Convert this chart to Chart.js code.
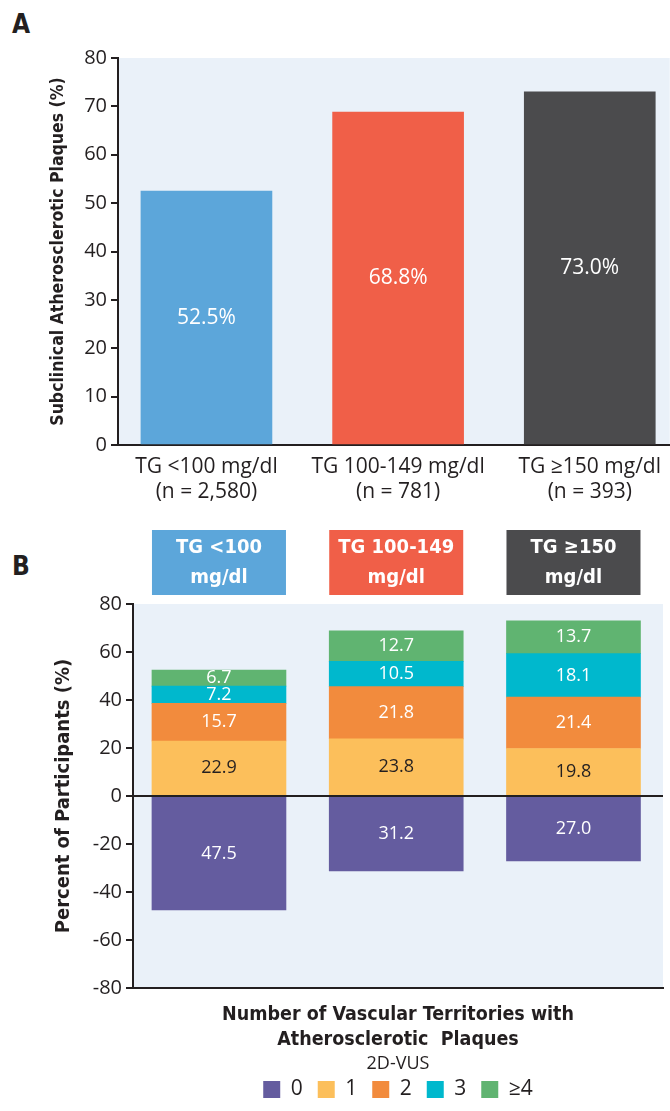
<!DOCTYPE html>
<html lang="en">
<head>
  <meta charset="UTF-8" />
  <title>Triglycerides and subclinical atherosclerosis</title>
  <script src="https://cdn.jsdelivr.net/npm/chart.js"></script>
  <style>
    body { margin: 0; background: #fff; width: 670px; height: 1111px; overflow: hidden; position: relative; color: #231f20; }
    .panel { position: absolute; left: 12px; font: bold 26px 'DejaVu Sans Condensed', sans-serif; }
    #chartA { position: absolute; left: 0; top: 0; }
    #chartB { position: absolute; left: 0; top: 520px; }
  </style>
</head>
<body>
  <div class="panel" style="top:9px">A</div>
  <div class="panel" style="top:551px">B</div>
  <canvas id="chartA" width="670" height="520"></canvas>
  <canvas id="chartB" width="670" height="591"></canvas>

  <script>
    const categories = ['TG <100 mg/dl', 'TG 100-149 mg/dl', 'TG ≥150 mg/dl'];
    const sampleSizes = ['(n = 2,580)', '(n = 781)', '(n = 393)'];
    const headerLabels = [['TG <100', 'mg/dl'], ['TG 100-149', 'mg/dl'], ['TG ≥150', 'mg/dl']];
    const groupColors = ['#5ca6da', '#f05f48', '#4b4b4d'];

    // panel A: % with subclinical plaques
    const plaquePct = [52.5, 68.8, 73.0];

    // panel B: number of vascular territories with plaque (0 is drawn below the axis)
    const territoryLabels = ['0', '1', '2', '3', '≥4'];
    const territory0 = [47.5, 31.2, 27.0];
    const territory1 = [22.9, 23.8, 19.8];
    const territory2 = [15.7, 21.8, 21.4];
    const territory3 = [7.2, 10.5, 18.1];
    const territory4 = [6.7, 12.7, 13.7];
    const territoryColors = ['#645c9f', '#fcbf5b', '#f28b3d', '#00b8cd', '#60b471'];

    const ink = '#231f20';
    const regular = "'Open Sans', sans-serif";
    const bold = "'DejaVu Sans Condensed', sans-serif";

    const plotBg = {
      id: 'plotBg',
      beforeDraw(chart) {
        const a = chart.chartArea, ctx = chart.ctx;
        ctx.save();
        ctx.fillStyle = '#eaf1f9';
        ctx.fillRect(a.left, a.top, a.right - a.left, a.bottom - a.top);
        ctx.restore();
      }
    };

    const barLabels = {
      id: 'barLabels',
      afterDatasetsDraw(chart, args, opts) {
        const ctx = chart.ctx;
        ctx.save();
        ctx.font = opts.font;
        ctx.textAlign = 'center';
        ctx.textBaseline = 'middle';
        chart.data.datasets.forEach((ds, d) => {
          chart.getDatasetMeta(d).data.forEach((bar, i) => {
            ctx.fillStyle = opts.colors[d];
            const v = Math.abs(ds.data[i].y);
            ctx.fillText(v.toFixed(1) + opts.suffix, bar.x, (bar.y + bar.base) / 2);
          });
        });
        ctx.restore();
      }
    };

    // black line at y = 0, drawn over the bars
    const zeroLine = {
      id: 'zeroLine',
      afterDatasetsDraw(chart) {
        const ctx = chart.ctx, a = chart.chartArea;
        const y0 = Math.round(chart.scales.y.getPixelForValue(0));
        ctx.save();
        ctx.strokeStyle = ink;
        ctx.lineWidth = 2;
        ctx.beginPath();
        ctx.moveTo(a.left, y0);
        ctx.lineTo(a.right, y0);
        ctx.stroke();
        ctx.restore();
      }
    };

    const groupHeaders = {
      id: 'groupHeaders',
      afterDraw(chart) {
        const ctx = chart.ctx, x = chart.scales.x;
        ctx.save();
        ctx.textAlign = 'center';
        ctx.textBaseline = 'middle';
        ctx.font = 'bold 20px ' + bold;
        headerLabels.forEach((lines, i) => {
          const cx = x.getPixelForValue(i);
          ctx.fillStyle = groupColors[i];
          ctx.fillRect(cx - 67, 10, 134, 65);
          ctx.fillStyle = '#fff';
          ctx.fillText(lines[0], cx, 28);
          ctx.fillText(lines[1], cx, 58);
        });
        ctx.restore();
      }
    };

    new Chart(document.getElementById('chartA'), {
      type: 'bar',
      data: {
        datasets: [{
          data: plaquePct.map((v, i) => ({ x: i, y: v })),
          backgroundColor: groupColors,
          borderWidth: 0,
          barThickness: 131
        }]
      },
      options: {
        responsive: false,
        animation: false,
        layout: { padding: { top: 58, right: 0, bottom: 0, left: 0 } },
        plugins: {
          legend: { display: false },
          tooltip: { enabled: false },
          barLabels: { font: '21px ' + regular, colors: ['#fff'], suffix: '%' }
        },
        scales: {
          x: {
            type: 'linear', min: -0.4615, max: 2.417, offset: false,
            afterBuildTicks: s => { s.ticks = categories.map((c, i) => ({ value: i })); },
            afterFit: s => { s.height = 75; },
            grid: { display: false, drawTicks: false },
            border: { display: true, color: ink, width: 2 },
            ticks: {
              padding: 9, color: ink, maxRotation: 0, autoSkip: false,
              font: { family: regular, size: 21, lineHeight: 1.2 },
              callback: v => [categories[v], sampleSizes[v]]
            }
          },
          y: {
            min: 0, max: 80,
            afterFit: s => { s.width = 118; },
            grid: { drawOnChartArea: false, tickLength: 7, color: ink, lineWidth: 2 },
            border: { color: ink, width: 2 },
            ticks: { stepSize: 10, padding: 4, color: ink, font: { family: regular, size: 20 } },
            title: {
              display: true, text: 'Subclinical Atherosclerotic Plaques (%)', color: ink,
              font: { family: bold, size: 17.5, weight: 'bold', lineHeight: 1.2 },
              padding: { top: 48, bottom: 0 }
            }
          }
        }
      },
      plugins: [plotBg, barLabels]
    });

    const seriesB = [territory0, territory1, territory2, territory3, territory4];

    new Chart(document.getElementById('chartB'), {
      type: 'bar',
      data: {
        datasets: territoryLabels.map((lab, k) => ({
          label: lab,
          data: seriesB[k].map((v, i) => ({ x: i, y: k === 0 ? -v : v })),
          backgroundColor: territoryColors[k],
          borderWidth: 0,
          barThickness: 134
        }))
      },
      options: {
        responsive: false,
        animation: false,
        layout: { padding: { top: 84, right: 7, bottom: 1, left: 0 } },
        plugins: {
          tooltip: { enabled: false },
          barLabels: { font: '18px ' + regular, colors: ['#fff', ink, '#fff', '#fff', '#fff'], suffix: '' },
          legend: {
            position: 'bottom',
            fullSize: false,
            title: { display: true, text: '2D-VUS', color: ink, font: { family: regular, size: 18, lineHeight: 0.5 }, padding: { top: 2, bottom: 0 } },
            labels: { boxWidth: 17, boxHeight: 17, padding: 15, color: ink, font: { family: regular, size: 21, lineHeight: 1 } }
          }
        },
        scales: {
          x: {
            type: 'linear', min: -0.485, max: 2.505, offset: false, stacked: true,
            afterBuildTicks: s => { s.ticks = categories.map((c, i) => ({ value: i })); },
            afterFit: s => { s.height = 65; },
            grid: { display: false, drawTicks: false },
            border: { display: true, color: ink, width: 2 },
            ticks: { display: false },
            title: {
              display: true, text: ['Number of Vascular Territories with', 'Atherosclerotic  Plaques'], color: ink,
              font: { family: bold, size: 19.5, weight: 'bold', lineHeight: 1.3 },
              padding: { top: 0, bottom: 0 }
            }
          },
          y: {
            min: -80, max: 80, stacked: true,
            afterFit: s => { s.width = 133; },
            grid: { drawOnChartArea: false, tickLength: 7, lineWidth: 2, color: ink },
            border: { color: ink, width: 2 },
            ticks: { stepSize: 20, padding: 4, color: ink, font: { family: regular, size: 20 } },
            title: {
              display: true, text: 'Percent of Participants (%)', color: ink,
              font: { family: bold, size: 20, weight: 'bold', lineHeight: 1.2 },
              padding: { top: 52, bottom: 0 }
            }
          }
        }
      },
      plugins: [plotBg, barLabels, zeroLine, groupHeaders]
    });
  </script>
</body>
</html>
